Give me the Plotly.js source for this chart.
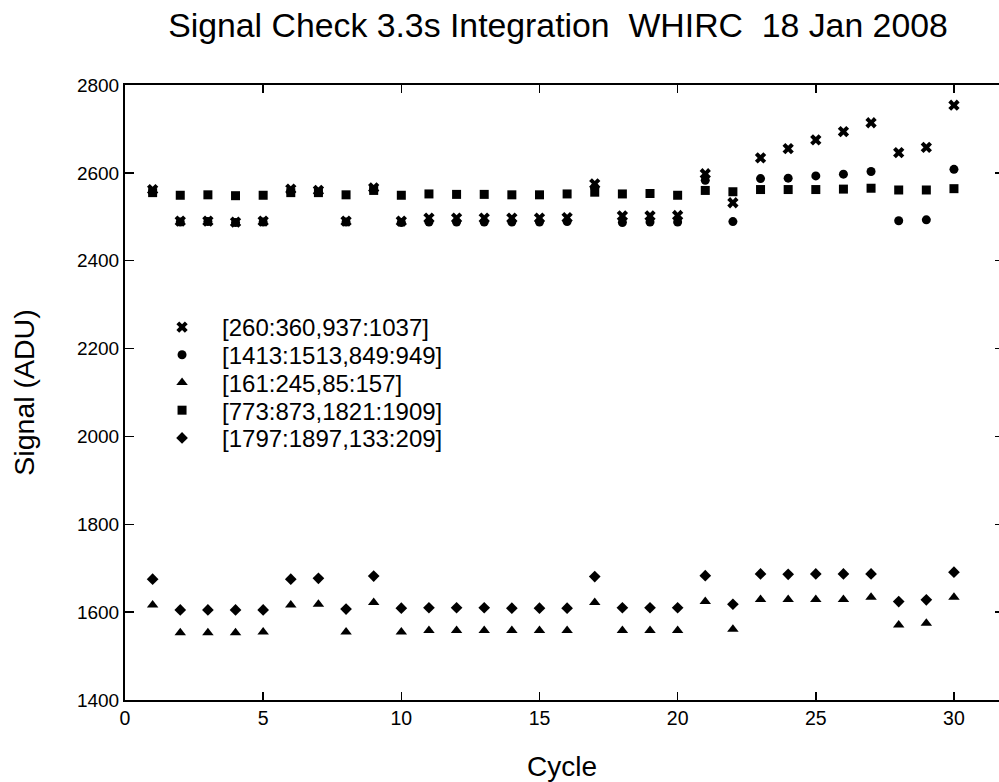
<!DOCTYPE html>
<html>
<head>
<meta charset="utf-8">
<script src="https://cdn.plot.ly/plotly-3.0.1.min.js"></script>
<style>html,body{margin:0;padding:0;background:#fff;}#chart{width:999px;height:782px;}</style>
</head>
<body>
<div id="chart"></div>
<script>
var cycles = [1,2,3,4,5,6,7,8,9,10,11,12,13,14,15,16,17,18,19,20,21,22,23,24,25,26,27,28,29,30];

var names = [
  "[260:360,937:1037]",
  "[1413:1513,849:949]",
  "[161:245,85:157]",
  "[773:873,1821:1909]",
  "[1797:1897,133:209]"
];

var region260 = [2562,2490,2490,2488,2490,2563,2560,2490,2566,2490,2497,2497,2497,2497,2497,2498,2575,2502,2502,2503,2598,2532,2634,2655,2675,2694,2714,2646,2658,2754];
var region1413 = [2556,2488,2489,2487,2488,2557,2556,2488,2562,2487,2488,2488,2488,2488,2488,2489,2566,2487,2488,2488,2583,2489,2587,2588,2593,2597,2603,2491,2493,2608];
var region161 = [1616,1553,1553,1553,1555,1616,1618,1555,1622,1555,1558,1558,1558,1558,1558,1558,1622,1558,1558,1558,1624,1561,1629,1629,1629,1629,1634,1571,1575,1634];
var region773 = [2555,2549,2550,2548,2549,2555,2555,2550,2560,2549,2552,2551,2551,2550,2550,2552,2556,2552,2553,2549,2560,2557,2562,2562,2562,2563,2565,2561,2561,2564];
var region1797 = [1675,1605,1605,1605,1605,1675,1677,1607,1682,1609,1610,1610,1610,1609,1609,1609,1681,1610,1610,1610,1683,1618,1687,1686,1687,1687,1687,1624,1628,1691];

var xTicks = [0,5,10,15,20,25,30];
var yTicks = [1400,1600,1800,2000,2200,2400,2600,2800];

var FONT = "Liberation Sans, Arial, sans-serif";

var series = [region260, region1413, region161, region773, region1797];
var symbols = ["x", "circle", "triangle-up", "square", "diamond"];
var sizes = [10, 9, 10, 9, 9];
var legendIds = ["legend", "legend2", "legend3", "legend4", "legend5"];

var traces = series.map(function (vals, i) {
  return {
    x: cycles, y: vals, name: names[i], type: "scatter", mode: "markers",
    marker: {symbol: symbols[i], size: sizes[i], color: "#000", line: {width: 0}},
    legend: legendIds[i]
  };
});
// invisible trace to attach the right-hand tick axis
traces.push({x: [cycles[0]], y: [yTicks[0]], yaxis: "y2", mode: "markers",
  marker: {opacity: 0}, showlegend: false, hoverinfo: "skip"});

var legendTop = 0.6423, legendStep = 27.7 / 615;
var layout = {
  width: 999, height: 782,
  margin: {l: 125, r: 0, t: 85, b: 82},
  paper_bgcolor: "#fff", plot_bgcolor: "#fff",
  font: {family: FONT, color: "#000", size: 19},
  title: {text: "Signal Check 3.3s Integration\u00a0\u00a0WHIRC\u00a0\u00a018 Jan 2008",
    font: {family: FONT, size: 33.8, color: "#000"},
    x: 0.4954, xref: "paper", xanchor: "center", y: 0.968, yref: "container", yanchor: "middle"},
  xaxis: {
    range: [0, 31.63], tickvals: xTicks, ticktext: xTicks.map(String),
    ticks: "inside", ticklen: 8, tickwidth: 1.5, tickcolor: "#000",
    showline: true, linewidth: 2, linecolor: "#000", mirror: "ticks",
    showgrid: false, zeroline: false,
    tickfont: {family: FONT, size: 19.5},
    title: {text: "Cycle", font: {family: FONT, size: 28}, standoff: 30}
  },
  yaxis: {
    range: [1400, 2800], tickvals: yTicks, ticktext: yTicks.map(String),
    ticks: "inside", ticklen: 9, tickwidth: 1.5, tickcolor: "#000",
    showline: true, linewidth: 2, linecolor: "#000",
    showgrid: false, zeroline: false,
    tickfont: {family: FONT, size: 19},
    title: {text: "Signal (ADU)", font: {family: FONT, size: 28.5}, standoff: 34}
  },
  yaxis2: {
    overlaying: "y", side: "right", range: [1400, 2800], tickvals: yTicks,
    showticklabels: false, ticks: "inside", ticklen: 4, tickwidth: 1.5, tickcolor: "#000",
    showline: false, showgrid: false, zeroline: false
  },
  showlegend: true
};
legendIds.forEach(function (id, i) {
  layout[id] = {
    x: 0.0195, xanchor: "left", y: legendTop - i * legendStep, yanchor: "top",
    bgcolor: "rgba(0,0,0,0)", borderwidth: 0,
    font: {family: FONT, size: 24, color: "#000"},
    itemsizing: "trace", itemwidth: 70
  };
});

Plotly.newPlot("chart", traces, layout, {displayModeBar: false, staticPlot: true});
</script>
</body>
</html>
